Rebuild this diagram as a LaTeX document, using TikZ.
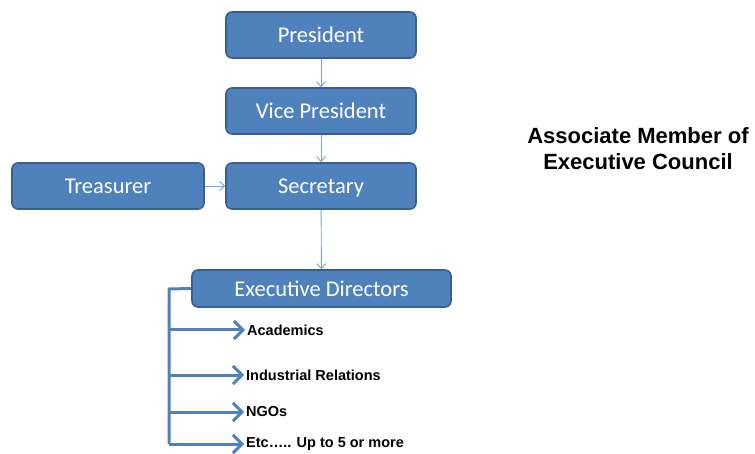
\documentclass[tikz,border=0pt]{standalone}
\usepackage{fontspec}
\setmainfont{Carlito}
\newfontfamily\arialfont{Liberation Sans}
\usetikzlibrary{arrows.meta}

\definecolor{boxblue}{HTML}{4F81BD}
\definecolor{boxedge}{HTML}{3A5F8F}
\definecolor{linkblue}{HTML}{7BA0D4}

\tikzset{
  office/.style={draw=boxedge, line width=1.6pt, fill=boxblue, rounded corners=6pt,
    minimum width=190pt, minimum height=46pt, inner sep=0pt,
    text height=16pt, text depth=0pt,
    text=white, font=\fontsize{22.5}{26}\selectfont},
  link/.style={draw=linkblue, line width=0.9pt, -{Straight Barb[length=5pt,width=9pt]}},
  bar/.style={draw=boxblue, line width=3pt},
  barlink/.style={bar, -{Straight Barb[length=9pt,width=18pt,line width=3pt]}},
  area/.style={anchor=west, inner sep=2pt, font=\arialfont\bfseries\fontsize{14.5}{17}\selectfont}
}

\begin{document}
\begin{tikzpicture}[x=1pt, y=-1pt]
  \useasboundingbox (0,0) rectangle (755,454);

  % Officers of the council
  \node[office] (pres) at (321,35) {President};
  \node[office] (vice) at (321,111) {Vice President};
  \node[office] (secr) at (321,186) {Secretary};
  \node[office, minimum width=192pt] (treas) at (108,186) {Treasurer};
  \node[office, minimum width=259pt, minimum height=37pt] (exec) at (321.5,288.5) {Executive Directors};

  \draw[link] (pres) -- (vice);
  \draw[link] (vice) -- (secr);
  \draw[link] (treas) -- (secr);
  \draw[link] (secr) -- (exec);

  % Areas under the executive directors
  \node[area] (acad) at (245,330) {Academics};
  \node[area] (ind) at (244,375) {Industrial Relations};
  \node[area] (ngo) at (244,412) {NGOs};
  \node[area] (etc) at (244,444) {Etc….. Up to 5 or more};

  \coordinate (top) at (169,289);
  \coordinate (b1) at (169,330);
  \coordinate (b2) at (169,375);
  \coordinate (b3) at (169,412);
  \coordinate (b4) at (169,444);

  \draw[bar] (exec.west) -- (top) -- (b4);
  \draw[barlink] (b1) -- (acad.west);
  \draw[barlink] (b2) -- (ind.west);
  \draw[barlink] (b3) -- (ngo.west);
  \draw[barlink] (b4) -- (etc.west);

  % Side note
  \node[align=center, inner sep=0pt, font=\arialfont\bfseries\fontsize{22}{26}\selectfont] (note) at (638,149)
    {Associate Member of\\Executive Council};
\end{tikzpicture}
\end{document}
